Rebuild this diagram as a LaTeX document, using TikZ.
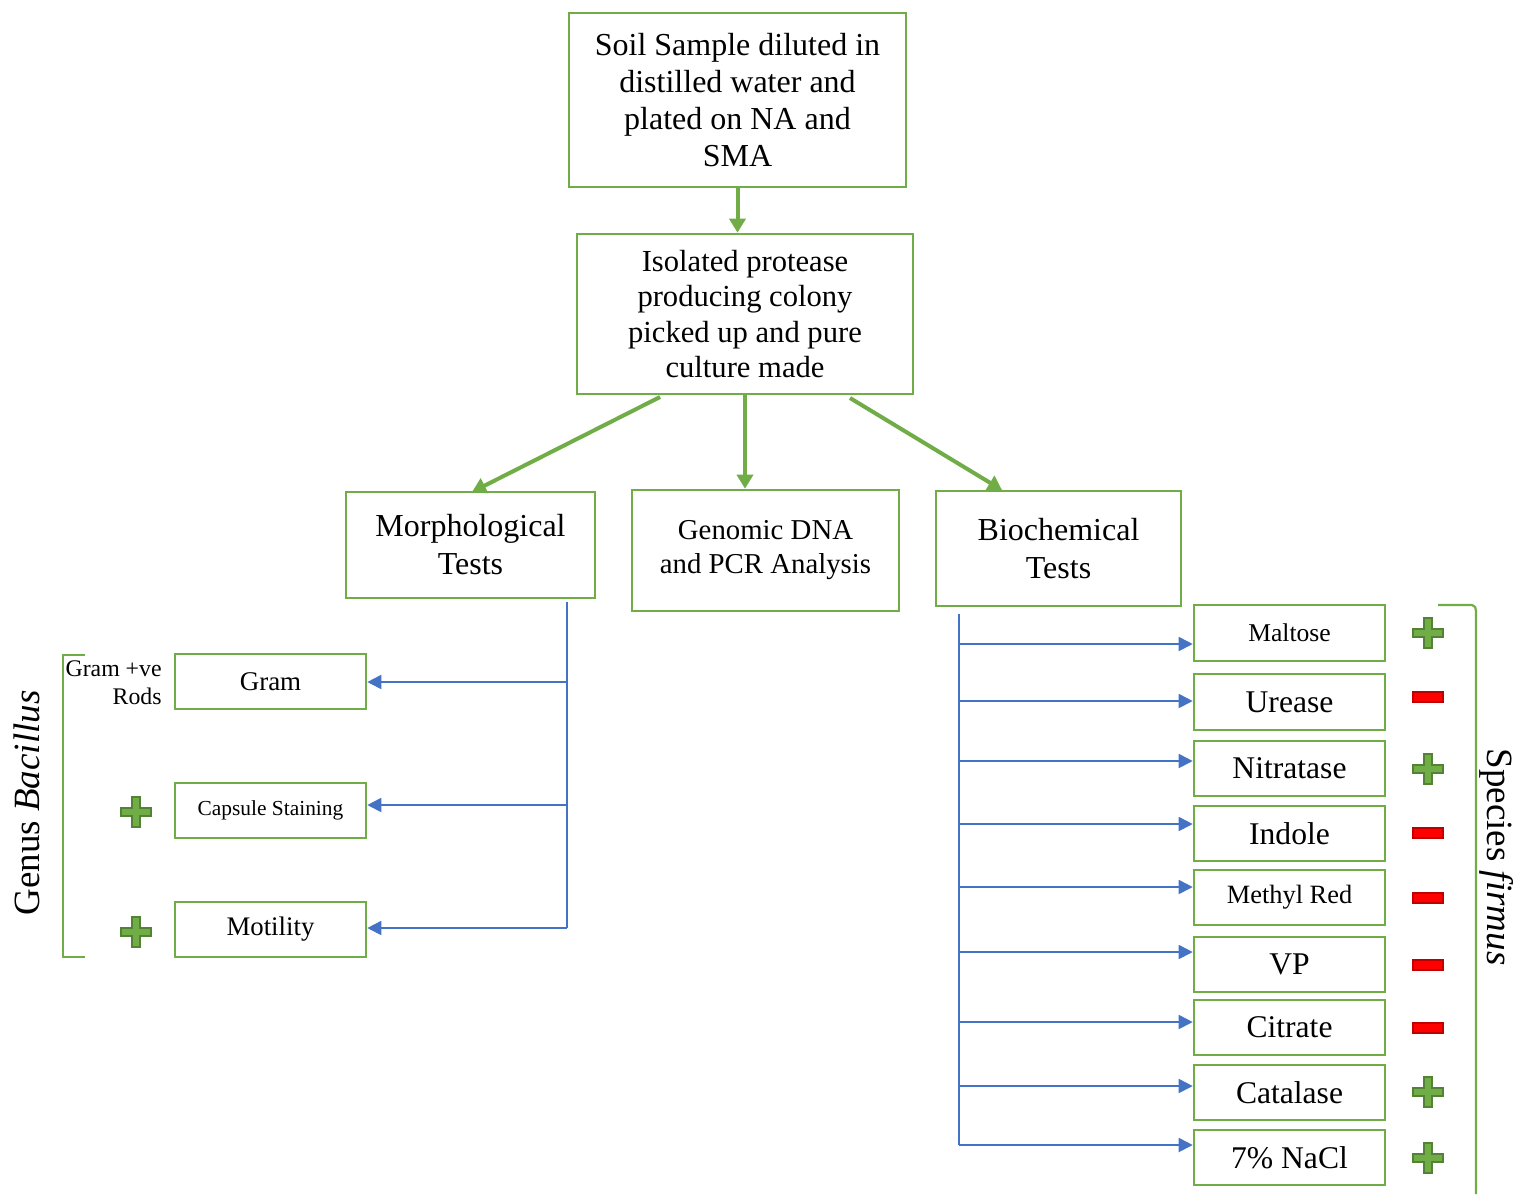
\documentclass[tikz,border=0pt]{standalone}
\usepackage{fontspec}
\setmainfont{Liberation Serif}
\usetikzlibrary{arrows.meta,calc}
\definecolor{gbox}{HTML}{70AD47}
\definecolor{gdark}{HTML}{548235}
\definecolor{barrow}{HTML}{4472C4}
\definecolor{rfill}{HTML}{FF0000}
\definecolor{rdark}{HTML}{C00000}
\newcommand{\fs}[2]{\fontsize{#1}{#2}\selectfont}
\tikzset{
  box/.style={draw=gbox, line width=1.3pt, align=center, inner sep=0pt, text=black},
  garrow/.style={draw=gbox, line width=2pt, -{Triangle[length=7pt,width=8pt]}},
  bline/.style={draw=barrow, line width=0.9pt},
  barr/.style={draw=barrow, line width=0.9pt, -{Triangle[length=7pt,width=7pt]}},
  brack/.style={draw=gbox, line width=1.1pt},
  plussign/.pic={\path[fill=gbox, draw=gdark, line width=0.9pt]
     (-4,-15)--(4,-15)--(4,-4)--(15,-4)--(15,4)--(4,4)--(4,15)--(-4,15)--(-4,4)--(-15,4)--(-15,-4)--(-4,-4)--cycle;},
  minussign/.pic={\path[fill=rfill, draw=rdark, line width=0.9pt] (-15,-5) rectangle (15,5);}
}
\begin{document}
\begin{tikzpicture}[x=0.5pt,y=-0.5pt]
\useasboundingbox (0,0) rectangle (1518,1194);
% main boxes
\node[box, minimum width=168.5pt, minimum height=87pt, font=\fs{16}{18.5}] (soil) at (737.5,100)
  {Soil Sample diluted in\\distilled water and\\plated on NA and\\SMA};
\node[box, minimum width=168pt, minimum height=80pt, font=\fs{15.3}{17.75}] (iso) at (745,314)
  {\raisebox{-1.2pt}{\parbox{160pt}{\centering Isolated protease\\producing colony\\picked up and pure\\culture made}}};
\node[box, minimum width=124.5pt, minimum height=53pt, font=\fs{16}{19}] (morph) at (470.5,545)
  {Morphological\\Tests};
\node[box, minimum width=133.5pt, minimum height=60.5pt, font=\fs{14.4}{17}] (gen) at (765.5,550.5)
  {Genomic DNA\\and PCR Analysis};
\node[box, minimum width=122.5pt, minimum height=57.5pt, font=\fs{16}{19}] (bio) at (1058.5,548.5)
  {Biochemical\\Tests};
% morphological sub-boxes
\node[box, minimum width=95.5pt, minimum height=27.5pt, font=\fs{13.5}{15}] (gram) at (270.5,681.5) {Gram};
\node[box, minimum width=95.5pt, minimum height=27.5pt, font=\fs{10.7}{12}] (caps) at (270.5,810.5) {Capsule Staining};
\node[box, minimum width=95.5pt, minimum height=27.5pt, font=\fs{13.4}{15}] (mot) at (270.5,929.5) {Motility};
% biochemical sub-boxes
\node[box, minimum width=95.5pt, minimum height=28pt, font=\fs{12.8}{14}] (malt) at (1289.5,633) {Maltose};
\node[box, minimum width=95.5pt, minimum height=28pt, font=\fs{15.8}{16}] (ure) at (1289.5,702) {Urease};
\node[box, minimum width=95.5pt, minimum height=27.5pt, font=\fs{15.8}{16}] (nit) at (1289.5,768.5) {Nitratase};
\node[box, minimum width=95.5pt, minimum height=27.5pt, font=\fs{15.8}{16}] (ind) at (1289.5,833.5) {Indole};
\node[box, minimum width=95.5pt, minimum height=27.5pt, font=\fs{13.2}{14}] (mr) at (1289.5,897.5) {Methyl Red};
\node[box, minimum width=95.5pt, minimum height=27.5pt, font=\fs{15.8}{16}] (vp) at (1289.5,964.5) {VP};
\node[box, minimum width=95.5pt, minimum height=27.5pt, font=\fs{15.8}{16}] (cit) at (1289.5,1027.5) {Citrate};
\node[box, minimum width=95.5pt, minimum height=27.5pt, font=\fs{15.8}{16}] (cat) at (1289.5,1092.5) {Catalase};
\node[box, minimum width=95.5pt, minimum height=27.5pt, font=\fs{15.8}{16}] (nacl) at (1289.5,1157.5) {7\% NaCl};
% green arrows
\draw[garrow] (soil.south) -- (soil.south |- iso.north);
\coordinate (i1) at (660,397);
\coordinate (m1) at (472,492);
\draw[garrow] (i1) -- (m1);
\draw[garrow] (iso.south) -- (iso.south |- gen.north);
\coordinate (i3) at (850,398);
\coordinate (b1) at (1002,490);
\draw[garrow] (i3) -- (b1);
% morphological trunk
\coordinate (mt) at (567,602);
\coordinate (mb) at (567,928);
\draw[bline] (mt) -- (mb);
\coordinate (g1) at (567,682);
\coordinate (c1) at (567,805);
\draw[barr] (g1) -- (g1 -| gram.east);
\draw[barr] (c1) -- (c1 -| caps.east);
\draw[barr] (mb) -- (mb -| mot.east);
% biochemical trunk
\coordinate (bt) at (959,614);
\coordinate (bb) at (959,1145);
\draw[bline] (bt) -- (bb);
\foreach \y/\n in {644/malt,701/ure,761/nit,824/ind,887/mr,952/vp,1022/cit,1086/cat,1145/nacl}{
  \coordinate (s-\n) at (959,\y);
  \draw[barr] (s-\n) -- (s-\n -| \n.west);
}
% left bracket
\coordinate (lb1) at (85,655);
\coordinate (lb2) at (85,957);
\draw[brack] (lb1) -- (63,655) -- (63,957) -- (lb2);
\node[font=\fs{18.5}{20}, rotate=90] (genus) at (27,803) {Genus \textit{Bacillus}};
\node[font=\fs{11.9}{14}, align=right, anchor=east, inner sep=0pt] (gramrods) at (162,683) {Gram +ve\\Rods};
% right bracket
\coordinate (rb1) at (1438,605);
\coordinate (rb2) at (1476,1194);
\draw[brack] (rb1) -- (1472,605) to[out=0,in=90] (1476,611) -- (rb2);
\node[font=\fs{18.5}{20}, rotate=-90] (species) at (1497,857) {Species \textit{firmus}};
% plus / minus marks
\pic at (136,812) {plussign};
\pic at (136,932) {plussign};
\pic at (1428,633) {plussign};
\pic at (1428,697) {minussign};
\pic at (1428,769) {plussign};
\pic at (1428,833) {minussign};
\pic at (1428,898) {minussign};
\pic at (1428,965) {minussign};
\pic at (1428,1028) {minussign};
\pic at (1428,1092) {plussign};
\pic at (1428,1158) {plussign};
\end{tikzpicture}
\end{document}
